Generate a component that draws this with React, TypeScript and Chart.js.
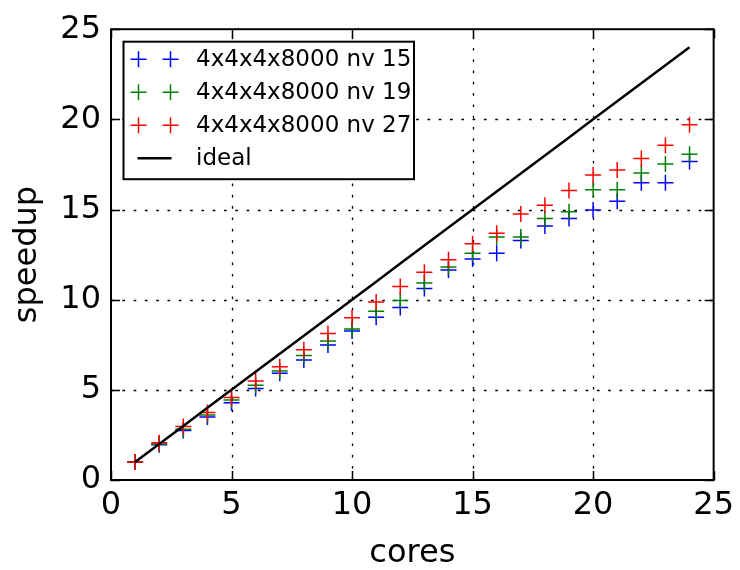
import React, { useEffect, useRef } from "react";
import { Chart, registerables } from "chart.js";

Chart.register(...registerables);

// ---- data ----
const cores = [1, 2, 3, 4, 5, 6, 7, 8, 9, 10, 11, 12, 13, 14, 15, 16, 17, 18, 19, 20, 21, 22, 23, 24];
const speedupNv15 = [1.0, 1.95, 2.75, 3.5, 4.28, 5.08, 5.92, 6.65, 7.49, 8.27, 9.03, 9.56, 10.62, 11.65, 12.25, 12.58, 13.28, 14.09, 14.5, 14.97, 15.46, 16.48, 16.48, 17.66];
const speedupNv19 = [1.0, 2.0, 2.82, 3.61, 4.43, 5.25, 6.04, 6.9, 7.71, 8.38, 9.36, 9.96, 10.92, 11.81, 12.58, 13.48, 13.47, 14.5, 14.87, 16.1, 16.1, 17.02, 17.52, 18.06];
const speedupNv27 = [1.0, 2.07, 2.97, 3.74, 4.58, 5.49, 6.28, 7.23, 8.13, 9.0, 9.87, 10.73, 11.52, 12.22, 13.1, 13.68, 14.75, 15.24, 16.06, 16.92, 17.19, 17.83, 18.56, 19.7];
const idealSpeedup = [1, 2, 3, 4, 5, 6, 7, 8, 9, 10, 11, 12, 13, 14, 15, 16, 17, 18, 19, 20, 21, 22, 23, 24];
const seriesLabels = ["4x4x4x8000 nv 15", "4x4x4x8000 nv 19", "4x4x4x8000 nv 27", "ideal"];
const xTickValues = [0, 5, 10, 15, 20, 25];
const yTickValues = [0, 5, 10, 15, 20, 25];
const xTitle = "cores";
const yTitle = "speedup";

const FONT = "'DejaVu Sans', sans-serif";

const toPoints = (xs: number[], ys: number[]) => xs.map((x, i) => ({ x, y: ys[i] }));

const drawCross = (ctx: CanvasRenderingContext2D, x: number, y: number, r: number) => {
  ctx.beginPath();
  ctx.moveTo(x - r, y);
  ctx.lineTo(x + r, y);
  ctx.moveTo(x, y - r);
  ctx.lineTo(x, y + r);
  ctx.stroke();
};

const mplFrame = {
  id: "mplFrame",
  beforeDatasetsDraw(chart: any) {
    const { ctx, chartArea: a, scales } = chart;
    const xs = scales.x;
    const ys = scales.y;
    ctx.save();
    ctx.strokeStyle = "#000";
    ctx.lineWidth = 1.3;
    ctx.setLineDash([2.7, 8.6]);
    for (const v of xTickValues) {
      if (v <= xs.min || v >= xs.max) continue;
      const px = Math.round(xs.getPixelForValue(v)) + 0.5;
      ctx.beginPath();
      ctx.moveTo(px, a.bottom);
      ctx.lineTo(px, a.top);
      ctx.stroke();
    }
    for (const v of yTickValues) {
      if (v <= ys.min || v >= ys.max) continue;
      const py = Math.round(ys.getPixelForValue(v)) + 0.5;
      ctx.beginPath();
      ctx.moveTo(a.left, py);
      ctx.lineTo(a.right, py);
      ctx.stroke();
    }
    ctx.restore();
  },
  afterDatasetsDraw(chart: any) {
    const { ctx, chartArea: a, scales } = chart;
    const xs = scales.x;
    const ys = scales.y;
    const tl = 9;
    ctx.save();
    ctx.strokeStyle = "#000";
    ctx.setLineDash([]);
    ctx.lineWidth = 1.5;
    for (const v of xTickValues) {
      const px = Math.round(xs.getPixelForValue(v)) + 0.5;
      ctx.beginPath();
      ctx.moveTo(px, a.bottom);
      ctx.lineTo(px, a.bottom - tl);
      ctx.moveTo(px, a.top);
      ctx.lineTo(px, a.top + tl);
      ctx.stroke();
    }
    for (const v of yTickValues) {
      const py = Math.round(ys.getPixelForValue(v)) + 0.5;
      ctx.beginPath();
      ctx.moveTo(a.left, py);
      ctx.lineTo(a.left + tl, py);
      ctx.moveTo(a.right, py);
      ctx.lineTo(a.right - tl, py);
      ctx.stroke();
    }
    ctx.lineWidth = 2;
    ctx.strokeRect(a.left, a.top, a.right - a.left, a.bottom - a.top);
    ctx.restore();
  },
  afterDraw(chart: any) {
    const { ctx, chartArea: a } = chart;
    const datasets = chart.data.datasets;
    const bx = a.left + 12.5;
    const by = a.top + 12.5;
    const bw = 290.5;
    const bh = 137.5;
    ctx.save();
    ctx.fillStyle = "#fff";
    ctx.fillRect(bx, by, bw, bh);
    ctx.strokeStyle = "#000";
    ctx.lineWidth = 2;
    ctx.strokeRect(bx, by, bw, bh);
    const rowH = 33;
    const firstRow = by + 17.5;
    const m1 = bx + 15;
    const m2 = bx + 47;
    ctx.font = `23px ${FONT}`;
    ctx.textBaseline = "middle";
    ctx.textAlign = "left";
    datasets.forEach((ds: any, i: number) => {
      const ry = firstRow + i * rowH;
      ctx.strokeStyle = ds.borderColor;
      if (ds.showLine) {
        ctx.lineWidth = ds.borderWidth;
        ctx.beginPath();
        ctx.moveTo(m1 - 1, ry);
        ctx.lineTo(m2 + 1, ry);
        ctx.stroke();
      } else {
        ctx.lineWidth = ds.pointBorderWidth;
        drawCross(ctx, m1, ry, ds.pointRadius);
        drawCross(ctx, m2, ry, ds.pointRadius);
      }
      ctx.fillStyle = "#000";
      ctx.fillText(ds.label, bx + 72.5, ry + 1);
    });
    ctx.restore();
  },
};

export default function App() {
  const canvasRef = useRef<HTMLCanvasElement | null>(null);

  useEffect(() => {
    document.body.style.margin = "0";
    const canvas = canvasRef.current;
    if (!canvas) return;
    const markerDs = (label: string, ys: number[], color: string, order: number) => ({
      label,
      data: toPoints(cores, ys),
      showLine: false,
      borderColor: color,
      backgroundColor: color,
      pointStyle: "cross",
      pointRadius: 8,
      pointHoverRadius: 8,
      pointBorderWidth: 1.5,
      pointBorderColor: color,
      order,
    });
    const chart = new Chart(canvas, {
      type: "scatter",
      data: {
        datasets: [
          markerDs(seriesLabels[0], speedupNv15, "#0000ff", 4),
          markerDs(seriesLabels[1], speedupNv19, "#008000", 3),
          markerDs(seriesLabels[2], speedupNv27, "#ff0000", 2),
          {
            label: seriesLabels[3],
            type: "line",
            data: toPoints(cores, idealSpeedup),
            showLine: true,
            borderColor: "#000000",
            backgroundColor: "#000000",
            borderWidth: 2.5,
            pointRadius: 0,
            pointHoverRadius: 0,
            fill: false,
            order: 1,
          } as any,
        ],
      },
      options: {
        animation: false,
        responsive: false,
        maintainAspectRatio: false,
        devicePixelRatio: 1,
        events: [],
        layout: { padding: { top: 25, right: 23, bottom: 0, left: 0 } },
        plugins: {
          legend: { display: false },
          tooltip: { enabled: false },
        },
        scales: {
          x: {
            type: "linear",
            min: 0,
            max: 25,
            afterBuildTicks: (s: any) => {
              s.ticks = xTickValues.map((v) => ({ value: v }));
            },
            afterFit: (s: any) => {
              s.height = 90;
            },
            grid: { display: false, drawTicks: false },
            border: { display: false },
            ticks: {
              color: "#000",
              padding: 6,
              maxRotation: 0,
              font: { family: FONT, size: 32, lineHeight: 1.2 },
            },
            title: {
              display: true,
              text: xTitle,
              color: "#000",
              font: { family: FONT, size: 32, lineHeight: 1 },
              padding: { top: 0, bottom: 0 },
            },
          },
          y: {
            type: "linear",
            min: 0,
            max: 25,
            afterBuildTicks: (s: any) => {
              s.ticks = yTickValues.map((v) => ({ value: v }));
            },
            afterFit: (s: any) => {
              s.width = 111;
            },
            grid: { display: false, drawTicks: false },
            border: { display: false },
            ticks: {
              color: "#000",
              padding: 10,
              font: { family: FONT, size: 32, lineHeight: 1.2 },
            },
            title: {
              display: true,
              text: yTitle,
              color: "#000",
              font: { family: FONT, size: 32, lineHeight: 1 },
              padding: { top: 12, bottom: 0 },
            },
          },
        },
      },
      plugins: [mplFrame],
    } as any);
    return () => chart.destroy();
  }, []);

  return (
    <div style={{ width: 740, height: 570, background: "#fff" }}>
      <canvas ref={canvasRef} width={740} height={570} style={{ display: "block", width: 740, height: 570 }} />
    </div>
  );
}
